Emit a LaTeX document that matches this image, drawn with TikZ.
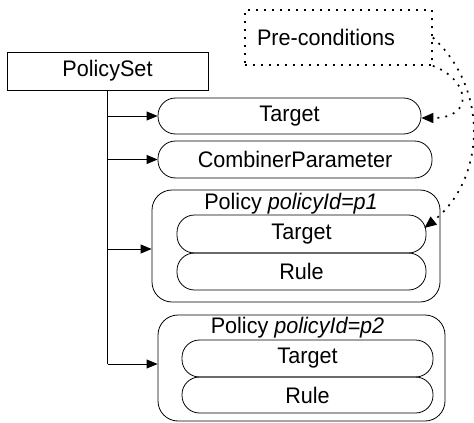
\documentclass[tikz,border=0pt]{standalone}
\usepackage{fontspec}
\setmainfont{Liberation Sans}[FakeStretch=0.96]
\usetikzlibrary{arrows.meta}
\begin{document}
\begin{tikzpicture}[x=1pt,y=-1pt,
  every node/.style={font=\fontsize{22.5}{25}\selectfont, inner sep=0pt},
  box/.style={draw, line width=0.8pt},
  pill/.style={draw, line width=0.8pt, rounded corners=17.5pt},
  group/.style={draw, line width=0.8pt, rounded corners=20pt},
  link/.style={line width=0.8pt, -{Triangle[length=11pt,width=9pt]}},
  dotline/.style={line width=1.7pt, dash pattern=on 1.9pt off 6.1pt,
    -{Triangle[length=12pt,width=10pt]}}]
\useasboundingbox (0,0) rectangle (474,423);

% note box and root
\node (pre) [draw, line width=1.7pt, dash pattern=on 1.9pt off 6.1pt,
  minimum height=55pt, text width=163pt, inner xsep=12pt, align=left]
  at (338.5,37.5) {Pre-conditions};
\node (ps) [box, minimum width=201pt, minimum height=38pt] at (107.5,71) {PolicySet};

% children of the policy set
\node (t0) [pill, minimum width=263pt, minimum height=36pt] at (289.5,116) {Target};
\node (cp) [pill, minimum width=274pt, minimum height=37pt] at (295,159.5) {CombinerParameter};

\node (p1) [group, minimum width=288pt, minimum height=112pt] at (296,246) {};
\node (p1title) at (291,204) {Policy \textit{policyId=p1}};
\node (p1t) [pill, minimum width=249pt, minimum height=38pt] at (301.5,234) {Target};
\node (p1r) [pill, minimum width=249pt, minimum height=37pt] at (301.5,271.5) {Rule};

\node (p2) [group, minimum width=287pt, minimum height=106pt] at (301.5,368) {};
\node (p2title) at (297.5,328) {Policy \textit{policyId=p2}};
\node (p2t) [pill, minimum width=251pt, minimum height=37pt] at (307.5,358.5) {Target};
\node (p2r) [pill, minimum width=251pt, minimum height=36pt] at (307.5,395) {Rule};

% arrow entry points on the policy boxes
\coordinate (p1in) at ([yshift=-3pt]p1.west);
\coordinate (p2in) at ([yshift=4pt]p2.west);
\coordinate (t0in) at ([yshift=-2pt]t0.east);
\coordinate (p1tin) at ([shift={(-2pt,6pt)}]p1t.east);

% tree connectors
\draw[line width=0.8pt] (ps.south) -- (ps.south |- p2in);
\draw[link] (ps.south |- t0.west) -- (t0.west);
\draw[link] (ps.south |- cp.west) -- (cp.west);
\draw[link] (ps.south |- p1in) -- (p1in);
\draw[link] (ps.south |- p2in) -- (p2in);

% pre-condition links
\draw[dotline] (pre.south east) .. controls (470,80) and (475,118) .. (t0in);
\draw[dotline] (pre.east) .. controls (490,90) and (485,180) .. (p1tin);
\end{tikzpicture}
\end{document}
